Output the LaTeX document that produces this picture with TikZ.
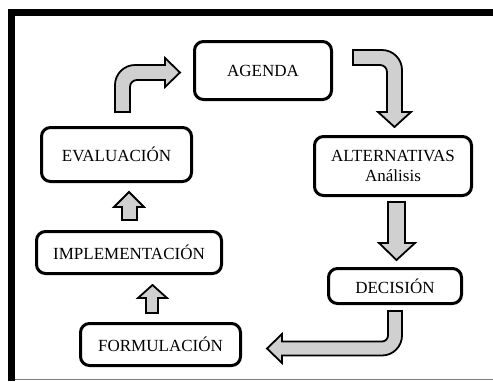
\documentclass[tikz,border=0pt]{standalone}
\usepackage{fontspec}
\setmainfont{Liberation Serif}
\begin{document}
\begin{tikzpicture}[x=1pt,y=-1pt,
  stagebox/.style={draw=black, line width=3pt, rounded corners=9pt, fill=white,
    inner sep=0pt, align=center, font=\fontsize{17}{20}\selectfont},
  blockarrow/.style={draw=black, line width=1.8pt, fill=arrowgray, line join=miter}]
\definecolor{arrowgray}{RGB}{208,208,208}
\useasboundingbox (0,0) rectangle (493,381);
\fill[white] (0,0) rectangle (493,381);
% frame
\draw[line width=7pt, line cap=butt] (11.5,381) -- (11.5,12) -- (493,12);
\draw[line width=1.5pt, gray] (15,379.5) -- (493,379.5);

% boxes
\node[stagebox, minimum width=137pt, minimum height=58pt] (agenda) at (263,70.5) {AGENDA};
\node[stagebox, minimum width=150pt, minimum height=54pt] (eval) at (116.5,154.5) {EVALUACIÓN};
\node[stagebox, minimum width=157pt, minimum height=59pt] (alt) at (393,166) {ALTERNATIVAS\\Análisis};
\node[stagebox, minimum width=185pt, minimum height=42pt] (impl) at (129,252.5) {IMPLEMENTACIÓN};
\node[stagebox, minimum width=133pt, minimum height=35pt] (dec) at (395,286) {DECISIÓN};
\node[stagebox, minimum width=160pt, minimum height=42pt] (form) at (160.5,344.5) {FORMULACIÓN};

% evaluacion -> agenda (bent up-right)
\draw[blockarrow] (115,112) -- (115,85) .. controls (115,74) and (124,65) .. (135,65)
  -- (165,65) -- (165,58) -- (180,72.5) -- (165,87) -- (165,80) -- (137,80)
  .. controls (133.1,80) and (130,83.1) .. (130,87) -- (130,112) -- cycle;

% agenda -> alternativas (bent right-down)
\draw[blockarrow] (353,50) -- (382,50) .. controls (393,50) and (402,59) .. (402,70)
  -- (402,112) -- (411,112) -- (394.5,127) -- (378,112) -- (387,112) -- (387,72)
  .. controls (387,68.1) and (383.9,65) .. (380,65) -- (353,65) -- cycle;

% alternativas -> decision (straight down)
\draw[blockarrow] (388,202) -- (405,202) -- (405,243) -- (415,243) -- (396.5,260)
  -- (379,243) -- (388,243) -- cycle;

% decision -> formulacion (bent down-left)
\draw[blockarrow] (402,311) -- (402,335.5) .. controls (402,346.5) and (393,355.5) .. (382,355.5)
  -- (282,355.5) -- (282,363) -- (267,348.5) -- (282,334) -- (282,341.5) -- (382,341.5)
  .. controls (385.3,341.5) and (388,338.8) .. (388,335.5) -- (388,311) -- cycle;

% formulacion -> implementacion (up)
\draw[blockarrow] (146,313) -- (146,298) -- (138,298) -- (152.5,285) -- (167,298)
  -- (158,298) -- (158,313) -- cycle;

% implementacion -> evaluacion (up)
\draw[blockarrow] (122,220) -- (122,207) -- (114,207) -- (129,192) -- (144,207)
  -- (137,207) -- (137,220) -- cycle;
\end{tikzpicture}
\end{document}
